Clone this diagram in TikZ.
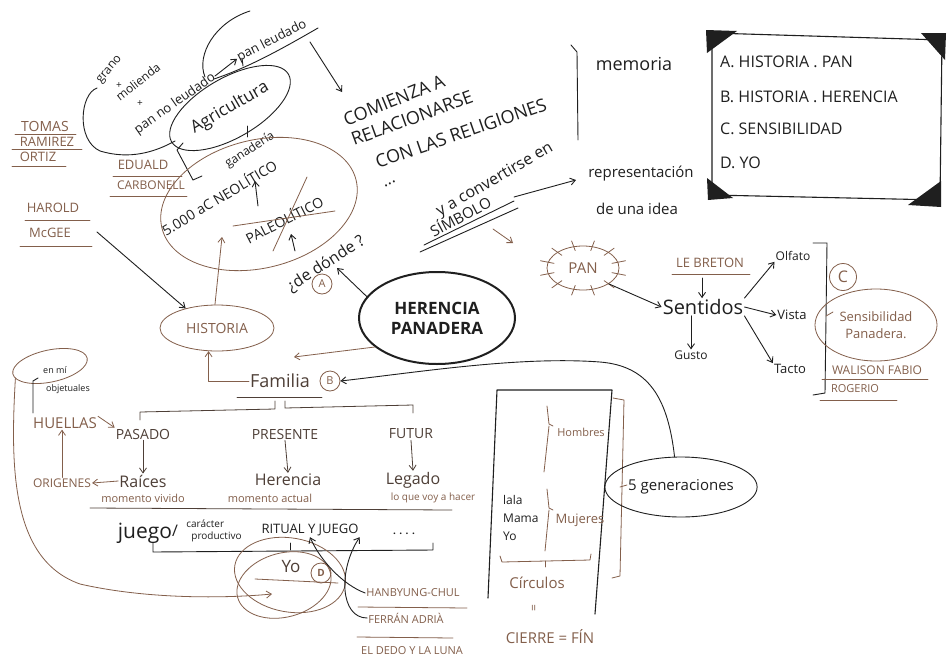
\documentclass[tikz,border=0pt]{standalone}
\usepackage{fontspec}
\setmainfont{Open Sans}
\usetikzlibrary{arrows.meta,shapes.geometric}
\definecolor{ink}{HTML}{1F1F1F}
\definecolor{brn}{HTML}{835F4B}
\definecolor{dbr}{HTML}{4E3F37}
\tikzset{
  fs/.style={font=\fontsize{#1}{#1}\selectfont},
  bk/.style={draw=ink, line width=0.9pt},
  br/.style={draw=brn, line width=0.8pt},
  db/.style={draw=dbr, line width=0.8pt},
  arr/.style={-{Straight Barb[length=5pt,width=7pt]}},
  tk/.style={text=ink, inner sep=1pt},
  tb/.style={text=brn, inner sep=1pt},
  td/.style={text=dbr, inner sep=1pt},
  lett/.style={circle, draw=brn, line width=0.8pt, text=brn, inner sep=0pt},
}
\begin{document}
\begin{tikzpicture}[x=1pt,y=-1pt, line cap=round, line join=round]
\useasboundingbox (0,0) rectangle (948,662);
\fill[white] (0,0) rectangle (948,662);

% ---------- top-left: grano / molienda / pan
\node[tk,fs=12,rotate=50] (grano) at (110,70) {grano};
\node[tk,fs=10] (plus1) at (119,86) {+};
\node[tk,fs=12,rotate=38] (mol) at (138,82) {molienda};
\node[tk,fs=10] (plus2) at (140,104) {+};
\node[tk,fs=13,rotate=35] (pnl) at (175,104) {pan no leudado};
\node[tk,fs=13,rotate=27] (pl) at (272,41) {pan leudado};
\draw[bk,arr] (pnl.east) -- (pl.west);
\draw[bk] (205,77) .. controls (196,55) and (215,22) .. (250,11);
\draw[bk] (214,79) .. controls (250,67) and (285,47) .. (318,28);
\draw[bk] (242,58) -- (243,66);
\coordinate (lensend) at (310,42);
\coordinate (comtip) at (342,92);
\draw[bk,arr] (lensend) -- (comtip);
\draw[bk] (97,88) .. controls (80,94) and (76,140) .. (100,151) .. controls (130,160) and (155,152) .. (175,141);

% names
\node[tb,fs=14] (tomas) at (45,126) {TOMAS};
\node[tb,fs=13] (ramirez) at (47,142) {RAMIREZ};
\node[tb,fs=13] (ortiz) at (38,157) {ORTIZ};
\draw[br] (15,134) -- (76,134);
\draw[br] (12,149) -- (82,149);
\draw[br] (12,166) -- (66,166);
\node[tb,fs=13] (edu) at (143,165) {EDUALD};
\node[tb,fs=12] (carb) at (151,185) {CARBONELL};
\draw[br] (113,176) -- (182,176);
\draw[br] (110,196) -- (187,196);
\node[tb,fs=13] (harold) at (53,208) {HAROLD};
\node[tb,fs=13] (mcgee) at (50,233) {McGEE};
\draw[br] (25,220) -- (90,220);
\draw[br] (20,246) -- (92,246);

% Agricultura
\node[bk,ellipse,rotate=30,minimum width=135,minimum height=60,tk,fs=17] (agri) at (230,108) {Agricultura};
\draw[bk] (183,143) -- (177,150) -- (193,180) -- (202,176);
\draw[bk] (247,126) -- (247,137);
\node[tk,fs=12,rotate=33] (gan) at (250,150) {ganadería};

% big ellipse
\node[br,ellipse,rotate=14,minimum width=200,minimum height=128] (neo) at (259,204) {};
\node[tk,fs=14,rotate=31] (neol) at (219,197) {5.000 aC NEOLÍTICO};
\coordinate (upA1) at (258,206);
\coordinate (upA2) at (255,181);
\draw[bk,arr] (upA1) -- (upA2);
\node[tk,fs=14,rotate=27] (paleo) at (284,219) {PALEOLÍTICO};
\draw[br] (233,226) -- (335,211);
\draw[br] (273,251) -- (307,177);
\coordinate (upB1) at (295,251);
\coordinate (upB2) at (291,234);
\draw[bk,arr] (upB1) -- (upB2);
\node[tk,fs=16,rotate=33] (dd) at (326,264) {¿de dónde ?};
\node[lett,fs=11,minimum size=20] (A) at (322,284) {A};

% HISTORIA
\node[br,ellipse,minimum width=114,minimum height=46,tb,fs=14] (hist) at (217,328) {HISTORIA};
\coordinate (neoin) at (222,237);
\draw[br,arr] (hist.95) -- (neoin);
\coordinate (mcgs) at (97,232);
\draw[bk,arr] (mcgs) -- (hist.148);

% HERENCIA PANADERA
\node[ellipse,draw=ink,line width=2pt,minimum width=156,minimum height=92,text=ink,font=\fontsize{17}{20}\selectfont\bfseries,align=center] (her) at (437,318) {HERENCIA\\PANADERA};
\coordinate (ddtip) at (337,268);
\draw[bk,arr] (her.163) -- (ddtip);

% Familia
\node[td,fs=18] (fam) at (280,381) {Familia};
\node[lett,fs=11,minimum size=20] (B) at (330,381) {B};
\draw[db] (237,397) -- (322,397);
\draw[br,arr] (fam.west) -| (hist.250);
\coordinate (famtip) at (294,357);
\draw[br,arr] (her.205) -- (famtip);

% Familia branches
\draw[db] (140,420) -- (140,412) -- (275,409) -- (275,401);
\draw[db] (285,401) -- (285,408) -- (413,405) -- (413,413);
\node[tb,fs=15] (hue) at (65,423) {HUELLAS};
\node[td,fs=14] (pas) at (143,434) {PASADO};
\node[td,fs=14] (pre) at (285,434) {PRESENTE};
\node[td,fs=14] (fut) at (411,434) {FUTUR};
\draw[br,arr] (hue.north east) -- (pas.north west);
\node[td,fs=16] (rai) at (143,481) {Raíces};
\node[td,fs=16] (hrn) at (288,480) {Herencia};
\node[td,fs=16] (leg) at (413,480) {Legado};
\node[tb,fs=11] (mviv) at (143,498) {momento vivido};
\node[tb,fs=11] (mact) at (270,498) {momento actual};
\node[tb,fs=10] (lqv) at (433,498) {lo que voy a hacer};
\draw[db,arr] (pas.south) -- (rai.north);
\draw[db,arr] (pre.south) -- (hrn.north);
\draw[db,arr] (fut.south) -- (leg.north);
\node[tb,fs=12] (ori) at (62,483) {ORIGENES};
\draw[br,arr] (rai.west) -- (ori.east);
\draw[br,arr] (ori.north) -- (ori.north |- hue.south);

% en mi objetuales
\node[br,ellipse,rotate=12,minimum width=76,minimum height=32] (enmi) at (50,366) {};
\node[tk,fs=9] (enmit) at (55,370) {en mí};
\node[tk,fs=9] (obj) at (68,389) {objetuales};
\draw[bk] (38,378) -- (33,381) -- (33,413);
\coordinate (yotip) at (272,594);
\draw[br,arr] (enmi.188) .. controls (10,470) and (12,560) .. (80,584) .. controls (150,600) and (230,598) .. (yotip);

% row line and juego
\draw[db] (90,508) -- (452,510);
\node[tk,fs=21] (juego) at (145,533) {juego};
\node[tk,fs=16] (slash) at (175,531) {/};
\node[tk,fs=10,align=left] (car) at (214,531) {carácter\\[2pt]\hspace*{5pt}productivo};
\node[tk,fs=13] (rit) at (310,530) {RITUAL Y JUEGO};
\node[tk,fs=15,font=\bfseries] (dots) at (404,534) {. . . .};
\draw[bk] (153,543) -- (153,552) -- (433,550) -- (433,543);
\draw[bk] (290,543) -- (290,550);

% Yo
\node[br,ellipse,rotate=-10,minimum width=112,minimum height=74] (yo1) at (290,575) {};
\node[br,ellipse,rotate=15,minimum width=96,minimum height=64] (yo2) at (284,585) {};
\node[td,fs=17] (yo) at (291,567) {Yo};
\node[lett,fs=11,minimum size=20,font=\bfseries] (D) at (321,573) {D};
\draw[br] (255,579) -- (338,583);

% references bottom
\node[tb,fs=11] (han) at (413,593) {HANBYUNG-CHUL};
\draw[br] (358,607) -- (467,608);
\node[tb,fs=11] (fer) at (406,618) {FERRÁN ADRIÀ};
\draw[br] (357,637) -- (453,638);
\node[tb,fs=11] (dedo) at (412,651) {EL DEDO Y LA LUNA};
\draw[bk,arr] (han.west) .. controls (343,585) and (320,560) .. (rit.south);
\draw[bk,arr] (fer.west) .. controls (340,618) and (338,570) .. (rit.south east);

% family box
\draw[bk,line width=1.1pt] (488,598) -- (497,390) -- (612,390) -- (595,614);
\draw[br] (547,406) -- (549,424) -- (553,426);
\draw[br] (549,426) -- (544,472);
\node[tb,fs=11] (homb) at (581,432) {Hombres};
\node[tk,fs=12,align=left,anchor=west] (lmy) at (502,518) {lala\\[6pt]Mama\\[6pt]Yo};
\draw[br] (547,489) -- (549,508) -- (553,510);
\draw[br] (549,510) -- (545,551);
\node[tb,fs=13] (muj) at (580,520) {Mujeres};
\draw[br] (500,556) -- (502,562) -- (590,560) -- (591,554);
\draw[br] (545,561) -- (545,567);
\node[tb,fs=15] (circ) at (537,583) {Círculos};
\node[tb,fs=12,rotate=90] (eq) at (535,608) {=};
\node[tb,fs=15] (cierre) at (550,637) {CIERRE = FÍN};
\draw[br] (613,398) -- (624,400) -- (620,576) -- (612,578);
\draw[br] (620,487) -- (627,485);
\node[bk,ellipse,minimum width=134,minimum height=60,tk,fs=15] (gen) at (681,487) {5 generaciones};
\draw[bk,arr] (gen.102) .. controls (668,400) and (650,366) .. (600,362) .. controls (520,356) and (420,372) .. (B.east);

% comienza
\node[tk,fs=18,rotate=22] (com1) at (394,100) {COMIENZA A};
\node[tk,fs=18,rotate=20] (com2) at (412,118) {RELACIONARSE};
\node[tk,fs=18,rotate=19] (com3) at (461,133) {CON LAS RELIGIONES};
\node[tk,fs=16,rotate=25] (dots2) at (390,184) {...};
\node[tk,fs=16,rotate=30] (conv) at (495,180) {y a convertirse en};
\node[tk,fs=15,rotate=28] (sim) at (460,216) {SÍMBOLO};
\draw[bk] (420,252) -- (518,208);
\draw[bk] (424,245) -- (514,201);
\coordinate (simst) at (514,197);
\draw[bk,arr] (simst) -- (576,180);
\coordinate (simb1) at (493,229);
\coordinate (simb2) at (513,243);
\draw[br,arr] (simb1) -- (simb2);
\draw[bk] (571,45) -- (577,52) -- (578,140);
\node[tk,fs=18] (mem) at (634,64) {memoria};
\node[tk,fs=15] (rep) at (641,174) {representación};
\node[tk,fs=15] (idea) at (637,209) {de una idea};

% A-D box
\draw[bk,line width=1.1pt] (712,33) -- (942,40) -- (940,200) -- (712,195) -- cycle;
\fill[ink] (706,30) -- (737,31) -- (707,53) -- cycle;
\fill[ink] (921,33) -- (946,33) -- (945,60) -- cycle;
\fill[ink] (707,178) -- (708,200) -- (733,198) -- cycle;
\fill[ink] (941,181) -- (941,207) -- (908,205) -- cycle;
\node[tk,fs=16,anchor=west] (la) at (719,62) {A. HISTORIA . PAN};
\node[tk,fs=16,anchor=west] (lb) at (719,97) {B. HISTORIA . HERENCIA};
\node[tk,fs=16,anchor=west] (lc) at (719,129) {C. SENSIBILIDAD};
\node[tk,fs=16,anchor=west] (ld) at (719,163) {D. YO};

% PAN and senses
\node[br,ellipse,minimum width=72,minimum height=44,tb,fs=15] (pan) at (583,268) {PAN};
\foreach \a in {15,45,75,105,135,165,195,225,255,285,315,345}
  \draw[br] ({583+30*cos(\a)},{268+18*sin(\a)}) -- ({583+44*cos(\a)},{268+28*sin(\a)});
\node[tb,fs=13] (lebr) at (710,263) {LE BRETON};
\draw[br] (672,274) -- (750,274);
\node[tk,fs=20] (sent) at (703,307) {Sentidos};
\coordinate (lbar) at (702,278);
\draw[bk,arr] (lbar) -- (lbar |- sent.north);
\draw[bk,arr] (pan.south east) -- (sent.west);
\node[tk,fs=12] (olf) at (793,256) {Olfato};
\node[tk,fs=13] (vis) at (792,315) {Vista};
\node[tk,fs=13] (tac) at (790,369) {Tacto};
\node[tk,fs=12] (gus) at (691,355) {Gusto};
\draw[bk,arr] (sent.north east) -- (olf.south west);
\draw[bk,arr] (sent.east) -- (vis.west);
\draw[bk,arr] (sent.south east) -- (tac.north west);
\draw[bk,arr] (gus.north |- sent.south) -- (gus.north);
\draw[bk] (813,243) -- (827,243) -- (825,393) -- (813,395);
\node[lett,fs=16,minimum size=27] (C) at (843,277) {C};
\node[br,ellipse,minimum width=122,minimum height=72,tb,fs=13,align=center] (sens) at (876,325) {Sensibilidad\\[4pt]Panadera.};
\draw[br] (826,316) -- (833,312);
\node[tb,fs=12] (wal) at (877,370) {WALISON FABIO};
\draw[br] (822,379) -- (928,379);
\node[tb,fs=11] (rog) at (855,389) {ROGERIO};
\draw[br] (820,400) -- (897,400);
\end{tikzpicture}
\end{document}
